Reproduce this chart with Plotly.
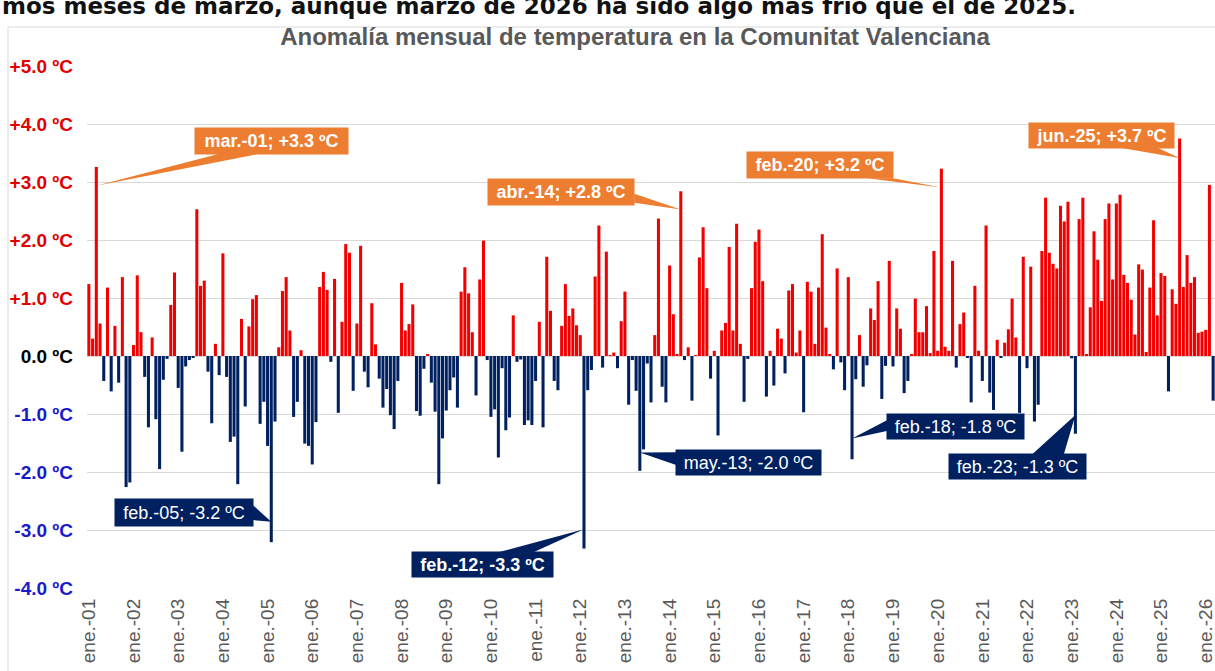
import plotly.graph_objects as go

# ---------------- data ----------------
# Monthly temperature anomaly (ºC), Comunitat Valenciana, Jan 2001 -> Mar 2026
anomaly_2001_2013 = [
    1.24, 0.30, 3.26, 0.56, -0.43, 1.18, -0.61, 0.52, -0.46, 1.36, -2.26, -2.18,   # 2001
    0.19, 1.39, 0.41, -0.36, -1.23, 0.32, -1.09, -1.95, -0.41, -0.05, 0.88, 1.44,  # 2002
    -0.55, -1.65, -0.18, -0.07, -0.03, 2.53, 1.21, 1.30, -0.27, -1.16, 0.21, -0.33,  # 2003
    1.77, -0.36, -1.48, -1.39, -2.21, 0.64, -0.87, 0.51, 0.98, 1.05, -1.17, -0.79,  # 2004
    -1.55, -3.21, -1.13, 0.15, 1.12, 1.36, 0.44, -1.05, -0.79, 0.10, -1.51, -1.55,  # 2005
    -1.87, -1.14, 1.19, 1.45, 1.14, -0.10, 1.33, -0.98, 0.59, 1.93, 1.78, -0.60,   # 2006
    0.56, 1.90, -0.27, -0.54, 0.91, 0.20, -0.39, -0.89, -0.57, -1.02, -1.26, -0.43,  # 2007
    1.26, 0.44, 0.55, 0.89, -0.95, -1.03, -0.22, 0.02, -0.46, -0.96, -2.21, -1.42,  # 2008
    -0.94, -0.59, -0.37, -0.89, 1.11, 1.53, 1.08, 0.41, -0.68, 1.32, 1.99, -0.07,  # 2009
    -1.05, -0.92, -1.75, -0.21, -1.28, -1.06, 0.70, -0.10, -0.06, -1.19, -1.11, -1.19,  # 2010
    -0.43, 0.59, -1.23, 1.71, 0.78, -0.43, -0.59, 0.52, 1.24, 0.69, 0.82, 0.53,   # 2011
    0.36, -3.32, -0.59, -0.24, 1.37, 2.25, -0.20, 1.80, 0.01, 0.06, -0.21, 0.60,   # 2012
    1.11, -0.84, -0.07, -0.60, -1.98, -1.61, -0.13, -0.80, 0.36, 2.37, -0.53, -0.80,  # 2013
]
anomaly_2014_2026 = [
    1.56, 0.72, 0.02, 2.84, -0.07, 0.15, -0.77, 0.01, 1.70, 2.22, 1.17, -0.39,   # 2014
    0.09, -1.37, 0.44, 0.57, 1.88, 0.44, 2.28, 0.21, -0.79, -0.05, 1.17, 1.97,   # 2015
    2.18, 1.29, -0.70, 0.09, -0.51, 0.47, 0.30, -0.30, 1.13, 1.24, 0.06, 0.44,   # 2016
    -0.97, 1.28, 1.11, 0.21, 1.18, 2.10, 0.49, 0.03, -0.23, 1.51, -0.11, -0.59,  # 2017
    1.36, -1.78, -0.40, 0.36, -0.53, -0.16, 0.82, 0.62, 1.29, -0.74, -0.17, 1.64,  # 2018
    -0.18, 0.82, 0.47, -0.64, -0.43, 0.02, 0.99, 0.41, 0.41, 0.86, 0.05, 1.81,   # 2019
    0.09, 3.23, 0.16, 0.09, 1.64, -0.20, 0.55, 0.75, -0.02, -0.80, 1.21, 0.09,   # 2020
    -0.43, 2.25, -0.63, -0.93, 0.28, -0.02, 0.23, 0.46, 0.99, 0.32, -0.98, 1.71,  # 2021
    -0.21, 1.54, -1.13, -0.84, 1.81, 2.73, 1.78, 1.59, 1.51, 2.59, 2.32, 2.66,   # 2022
    -0.04, -1.34, 2.36, 2.73, 0.02, 0.84, 2.15, 1.66, 0.95, 2.36, 2.63, 1.32,   # 2023
    2.63, 2.78, 1.40, 1.26, 0.97, 0.37, 1.58, 1.49, 0.07, 1.18, 2.34, 0.70,    # 2024
    1.43, 1.38, -0.61, 1.15, 0.90, 3.75, 1.19, 1.74, 1.26, 1.36, 0.40, 0.42,   # 2025
    0.45, 2.95, -0.77,                                                       # 2026
]
anomaly = anomaly_2001_2013 + anomaly_2014_2026

x_tick_labels = ["ene.-01", "ene.-02", "ene.-03", "ene.-04", "ene.-05", "ene.-06",
                 "ene.-07", "ene.-08", "ene.-09", "ene.-10", "ene.-11", "ene.-12",
                 "ene.-13", "ene.-14", "ene.-15", "ene.-16", "ene.-17", "ene.-18",
                 "ene.-19", "ene.-20", "ene.-21", "ene.-22", "ene.-23", "ene.-24",
                 "ene.-25", "ene.-26"]
y_tick_values = [5, 4, 3, 2, 1, 0, -1, -2, -3, -4]
y_tick_labels = ["+5.0 ºC", "+4.0 ºC", "+3.0 ºC", "+2.0 ºC", "+1.0 ºC", "0.0 ºC",
                 "-1.0 ºC", "-2.0 ºC", "-3.0 ºC", "-4.0 ºC"]

callout_labels = ["mar.-01; +3.3 ºC", "feb.-05; -3.2 ºC", "feb.-12; -3.3 ºC",
                  "may.-13; -2.0 ºC", "abr.-14; +2.8 ºC", "feb.-18; -1.8 ºC",
                  "feb.-20; +3.2 ºC", "feb.-23; -1.3 ºC", "jun.-25; +3.7 ºC"]
callout_months = [2, 49, 133, 148, 159, 205, 229, 265, 293]

title_text = "Anomalía mensual de temperatura en la Comunitat Valenciana"
top_text = "mos meses de marzo, aunque marzo de 2026 ha sido algo más frío que el de 2025."

# ---------------- layout / style ----------------
W, H = 1215, 671
L, R, T, B = 87, 0, 66, 83
RED = "#f20000"
NAVY = "#002060"
ORANGE = "#ed7d31"
GRID = "#d9d9d9"
FONT = "Arial, Liberation Sans, sans-serif"

n = len(anomaly)
xs = list(range(n))
xr = [-0.5, n - 0.5]
yr = [-4, 5]
pw, ph = W - L - R, H - T - B
px_x = pw / (xr[1] - xr[0])
px_y = ph / (yr[1] - yr[0])

colors = [RED if v >= 0 else NAVY for v in anomaly]

fig = go.Figure(go.Bar(
    x=xs, y=anomaly,
    marker=dict(color=colors, line=dict(width=0)),
    width=0.82, hoverinfo="skip",
))

# callout geometry: box center (month idx, value), box size px, wedge base offsets px, tip fraction
callout_style = [
    dict(bg=ORANGE, bold=True,  cx=49.0,  cy=3.71,  w=153, h=26, base=[(-52, 13), (-12, 13)], tipf=0.90),
    dict(bg=NAVY,   bold=False, cx=25.5,  cy=-2.69, w=138, h=27, base=[(69, -7), (69, 8)],    tipf=0.89),
    dict(bg=NAVY,   bold=True,  cx=105.7, cy=-3.60, w=141, h=25, base=[(14, -12), (50, -12)], tipf=0.90),
    dict(bg=NAVY,   bold=False, cx=177.3, cy=-1.83, w=145, h=25, base=[(-72, -10), (-72, 3)], tipf=0.84),
    dict(bg=ORANGE, bold=True,  cx=126.9, cy=2.83,  w=146, h=26, base=[(73, 2), (73, 11)],    tipf=0.89),
    dict(bg=NAVY,   bold=False, cx=232.9, cy=-1.22, w=137, h=25, base=[(-68, -7), (-68, 4)],  tipf=0.80),
    dict(bg=ORANGE, bold=True,  cx=196.4, cy=3.29,  w=146, h=26, base=[(47, 13), (73, 13)],   tipf=0.90),
    dict(bg=NAVY,   bold=False, cx=249.5, cy=-1.91, w=137, h=25, base=[(14, -12), (46, -12)], tipf=0.76),
    dict(bg=ORANGE, bold=True,  cx=272.1, cy=3.81,  w=145, h=25, base=[(14, 12), (54, 12)],   tipf=0.91),
]

shapes = []
annotations = []
for label, mi, st in zip(callout_labels, callout_months, callout_style):
    tipx, tipy = mi, anomaly[mi] * st["tipf"]
    pts = [(st["cx"] + dx / px_x, st["cy"] - dy / px_y) for dx, dy in st["base"]]
    path = "M {} {} L {} {} L {} {} Z".format(pts[0][0], pts[0][1], pts[1][0], pts[1][1], tipx, tipy)
    shapes.append(dict(type="path", path=path, xref="x", yref="y", fillcolor=st["bg"],
                       line=dict(width=0), layer="above"))
    txt = "<b>%s</b>" % label if st["bold"] else label
    annotations.append(dict(x=st["cx"], y=st["cy"], xref="x", yref="y", text=txt,
                            showarrow=False, bgcolor=st["bg"], borderpad=0,
                            width=st["w"], height=st["h"], align="center", valign="middle",
                            font=dict(family=FONT, size=18, color="white"),
                            xanchor="center", yanchor="middle"))

def paper_x(px):
    return (px - L) / pw

def paper_y(py):
    return (H - B - py) / ph

# outer chart frame (left and top border)
shapes.append(dict(type="line", xref="paper", yref="paper", x0=paper_x(8), x1=paper_x(8),
                   y0=paper_y(27), y1=paper_y(H), line=dict(color=GRID, width=1), layer="below"))
shapes.append(dict(type="line", xref="paper", yref="paper", x0=paper_x(8), x1=paper_x(W),
                   y0=paper_y(27), y1=paper_y(27), line=dict(color=GRID, width=1), layer="below"))

# sentence above the chart (clipped by the page edge, as in the source screenshot)
annotations.append(dict(x=paper_x(0), y=paper_y(6), xref="paper", yref="paper",
                        text="<b>%s</b>" % top_text,
                        showarrow=False, xanchor="left", yanchor="middle",
                        font=dict(family="DejaVu Sans", size=23, color="#111111")))

def color_tick(v, s):
    c = "#e00000" if v > 0 else ("#1a1acb" if v < 0 else "#000000")
    return "<span style='color:%s'><b>%s</b></span>" % (c, s)

fig.update_layout(
    width=W, height=H,
    margin=dict(l=L, r=R, t=T, b=B, autoexpand=False),
    paper_bgcolor="white", plot_bgcolor="white",
    showlegend=False, bargap=0.2,
    title=dict(text="<b>%s</b>" % title_text, x=635 / W, y=1 - 37 / H,
               xanchor="center", yanchor="middle", xref="container", yref="container",
               font=dict(family=FONT, size=24, color="#595959")),
    xaxis=dict(range=xr, tickmode="array", tickvals=list(range(0, n, 12)),
               ticktext=x_tick_labels, tickangle=-90, showgrid=False, zeroline=False,
               showline=False, ticks="", automargin=False, ticklabelstandoff=6,
               ticklabeloverflow="allow",
               tickfont=dict(family=FONT, size=19, color="#595959")),
    yaxis=dict(range=yr, tickmode="array", tickvals=y_tick_values,
               ticktext=[color_tick(v, s) for v, s in zip(y_tick_values, y_tick_labels)],
               showgrid=True, gridcolor=GRID, gridwidth=1, zeroline=False, showline=False,
               ticks="", automargin=False, ticklabelstandoff=13,
               tickfont=dict(family=FONT, size=19, color="#000000")),
    shapes=shapes, annotations=annotations,
)

fig.write_html("out.html", config={"displayModeBar": False},
               post_script="document.body.style.margin='0px';")
